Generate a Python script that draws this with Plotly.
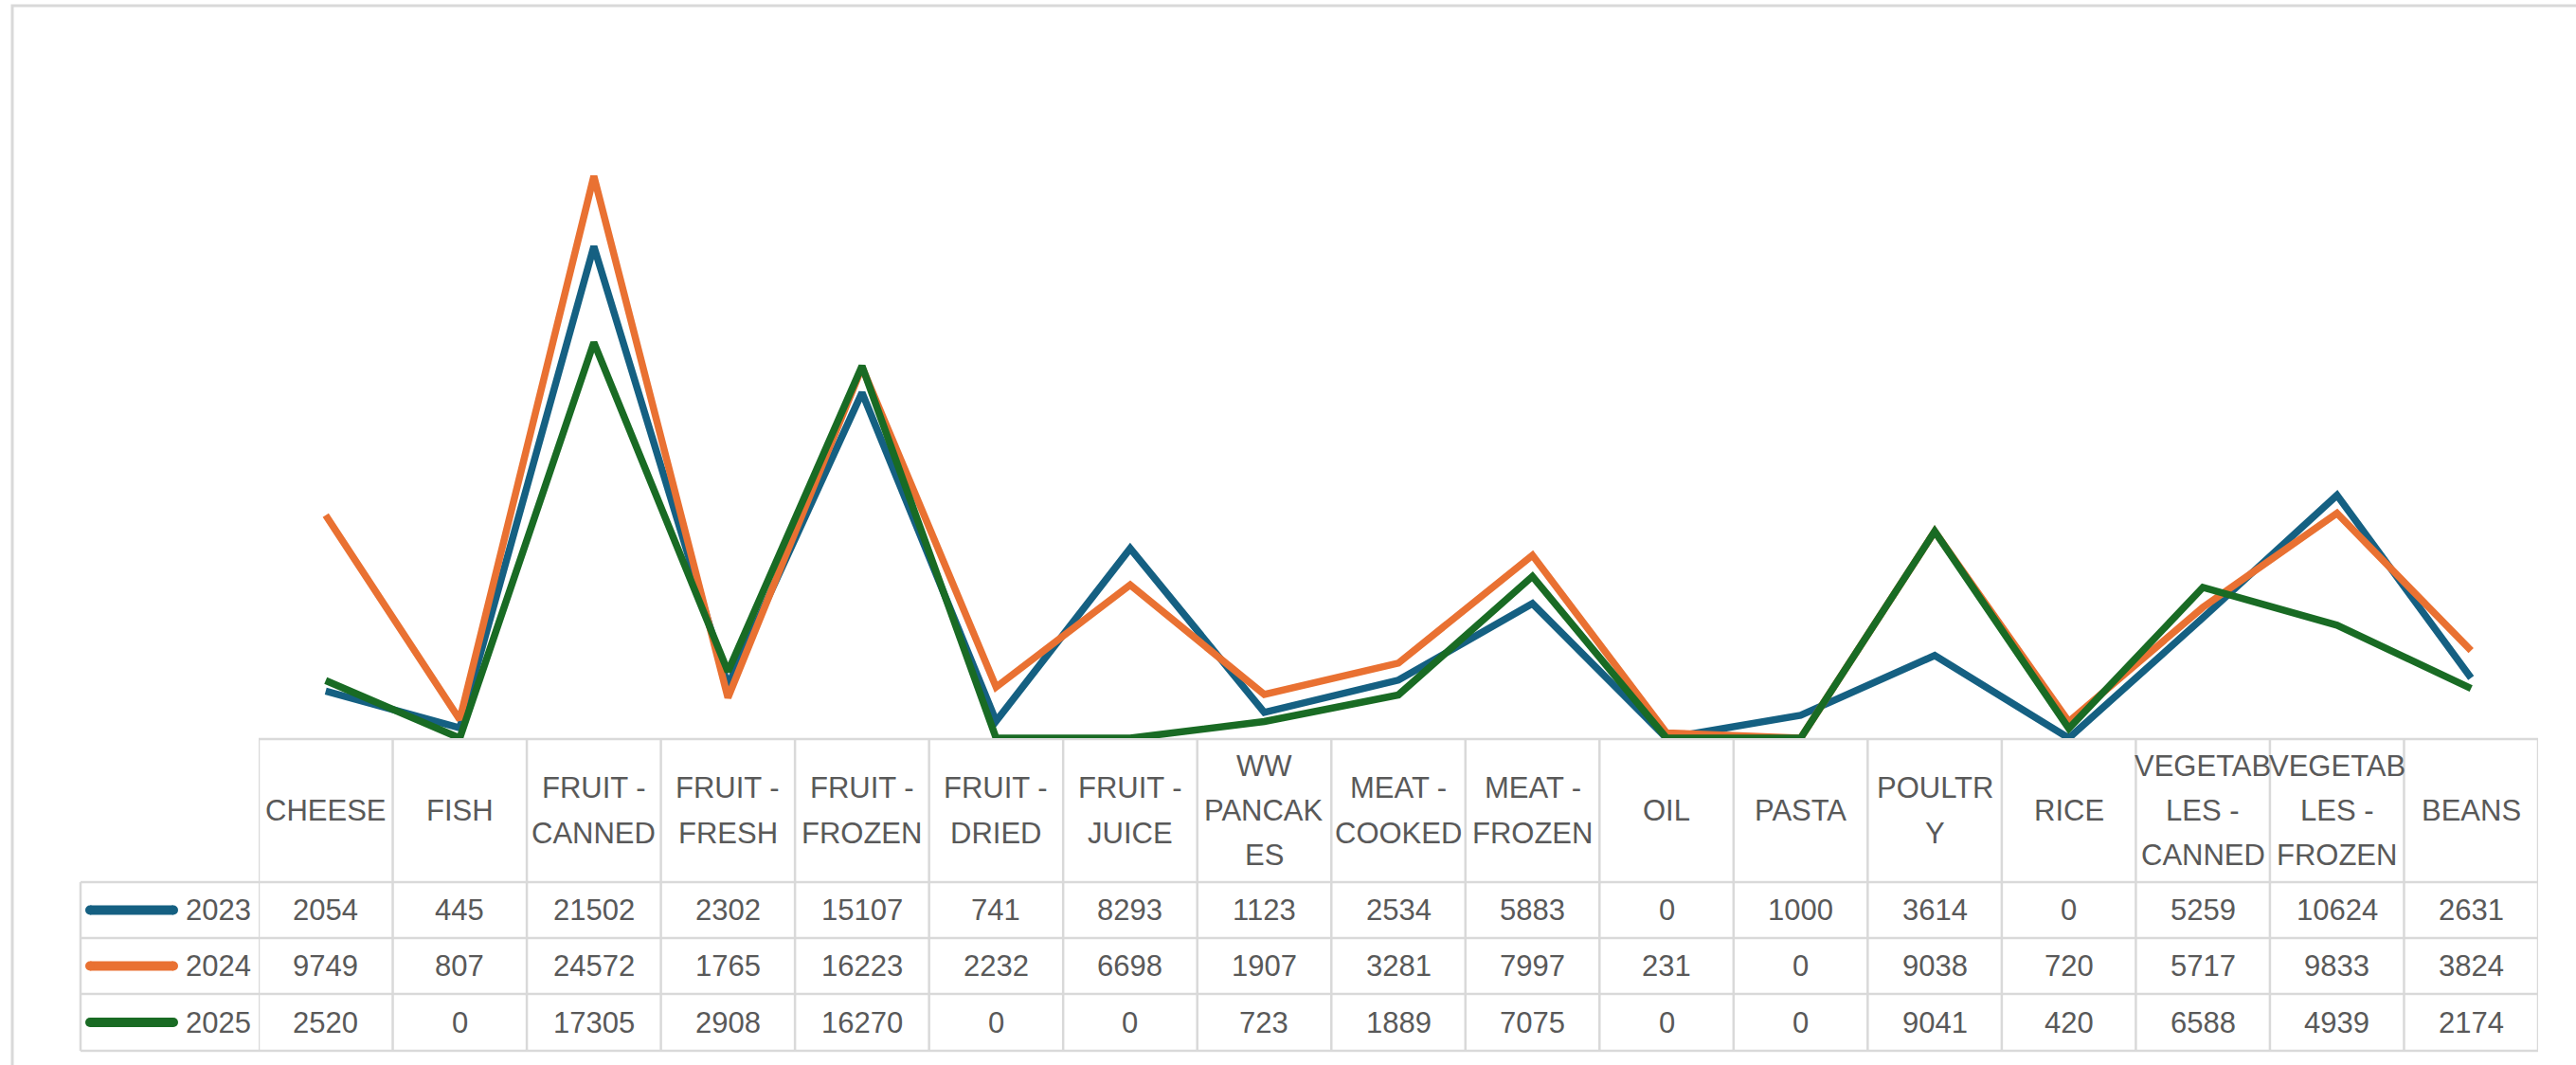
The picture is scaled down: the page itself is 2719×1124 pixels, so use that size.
import plotly.graph_objects as go

# ---------------- data ----------------
categories = ["CHEESE", "FISH", "FRUIT - CANNED", "FRUIT - FRESH", "FRUIT - FROZEN",
              "FRUIT - DRIED", "FRUIT - JUICE", "WW PANCAKES", "MEAT - COOKED",
              "MEAT - FROZEN", "OIL", "PASTA", "POULTRY", "RICE",
              "VEGETABLES - CANNED", "VEGETABLES - FROZEN", "BEANS"]
header_labels = ["CHEESE", "FISH", "FRUIT -<br>CANNED", "FRUIT -<br>FRESH", "FRUIT -<br>FROZEN",
                 "FRUIT -<br>DRIED", "FRUIT -<br>JUICE", "WW<br>PANCAK<br>ES", "MEAT -<br>COOKED",
                 "MEAT -<br>FROZEN", "OIL", "PASTA", "POULTR<br>Y", "RICE",
                 "VEGETAB<br>LES -<br>CANNED", "VEGETAB<br>LES -<br>FROZEN", "BEANS"]
series_names = ["2023", "2024", "2025"]
v2023 = [2054, 445, 21502, 2302, 15107, 741, 8293, 1123, 2534, 5883, 0, 1000, 3614, 0, 5259, 10624, 2631]
v2024 = [9749, 807, 24572, 1765, 16223, 2232, 6698, 1907, 3281, 7997, 231, 0, 9038, 720, 5717, 9833, 3824]
v2025 = [2520, 0, 17305, 2908, 16270, 0, 0, 723, 1889, 7075, 0, 0, 9041, 420, 6588, 4939, 2174]
series_values = [v2023, v2024, v2025]
colors = ["#156082", "#E97132", "#196B24"]

# ---------------- geometry (pixels) ----------------
W, H = 2719, 1124
PLOT_L, PLOT_R, PLOT_T, PLOT_B = 273, 2679, 55, 779
HEAD_T, HEAD_B = 780, 931
ROW_EDGES = [931, 990, 1049, 1109]
LEG_L = 85
GRID = "#D9D9D9"
TXT = "#595959"
FONT = "Liberation Sans, Arial, sans-serif"
FS = 31
LINE_SP = 47


def px(x):
    return x / W


def py(y):
    return 1 - y / H


n = len(categories)
x_idx = list(range(n))

fig = go.Figure()
for name, vals, col in zip(series_names, series_values, colors):
    fig.add_trace(go.Scatter(x=x_idx, y=vals, mode="lines", name=name,
                             line=dict(color=col, width=7.5), hoverinfo="skip"))

shapes = []
annotations = []

# outer chart border
shapes.append(dict(type="rect", xref="paper", yref="paper", x0=px(13), x1=px(W + 20),
                   y0=py(H + 20), y1=py(6), line=dict(color=GRID, width=3), layer="below"))

# table: horizontal lines
shapes.append(dict(type="line", xref="x", yref="paper", x0=-0.5, x1=n - 0.5,
                   y0=py(HEAD_T), y1=py(HEAD_T), line=dict(color=GRID, width=2.5), layer="below"))
for ye in ROW_EDGES:
    shapes.append(dict(type="line", xref="paper", yref="paper", x0=px(LEG_L), x1=px(PLOT_R),
                       y0=py(ye), y1=py(ye), line=dict(color=GRID, width=2.5), layer="below"))
# vertical lines
for i in range(n + 1):
    shapes.append(dict(type="line", xref="x", yref="paper", x0=i - 0.5, x1=i - 0.5,
                       y0=py(HEAD_T), y1=py(ROW_EDGES[-1]), line=dict(color=GRID, width=2.5),
                       layer="below"))
shapes.append(dict(type="line", xref="paper", yref="paper", x0=px(LEG_L), x1=px(LEG_L),
                   y0=py(ROW_EDGES[0]), y1=py(ROW_EDGES[-1]), line=dict(color=GRID, width=2.5),
                   layer="below"))

# header labels
head_c = (HEAD_T + HEAD_B) / 2
for i, lab in enumerate(header_labels):
    lines = lab.split("<br>")
    k = len(lines)
    for j, ln in enumerate(lines):
        yc = head_c + (j - (k - 1) / 2) * LINE_SP
        annotations.append(dict(x=i, y=py(yc), xref="x", yref="paper", text=ln,
                                showarrow=False, xanchor="center", yanchor="middle",
                                font=dict(family=FONT, size=FS, color=TXT)))

# rows
for r, (name, vals, col) in enumerate(zip(series_names, series_values, colors)):
    yc = (ROW_EDGES[r] + ROW_EDGES[r + 1]) / 2
    # legend key (line with round ends)
    x0k, x1k, lw = 95, 183, 10
    shapes.append(dict(type="line", xref="paper", yref="paper", x0=px(x0k), x1=px(x1k),
                       y0=py(yc), y1=py(yc), line=dict(color=col, width=lw)))
    for xe in (x0k, x1k):
        shapes.append(dict(type="circle", xref="paper", yref="paper",
                           x0=px(xe - lw / 2), x1=px(xe + lw / 2),
                           y0=py(yc + lw / 2), y1=py(yc - lw / 2),
                           fillcolor=col, line=dict(width=0)))
    annotations.append(dict(x=px(267), y=py(yc), xref="paper", yref="paper", text=name,
                            showarrow=False, xanchor="right", yanchor="middle",
                            font=dict(family=FONT, size=FS, color=TXT)))
    for i, v in enumerate(vals):
        annotations.append(dict(x=i, y=py(yc), xref="x", yref="paper", text=str(v),
                                showarrow=False, xanchor="center", yanchor="middle",
                                font=dict(family=FONT, size=FS, color=TXT)))

fig.update_layout(
    width=W, height=H,
    margin=dict(l=0, r=0, t=0, b=0),
    paper_bgcolor="white", plot_bgcolor="white",
    showlegend=False,
    xaxis=dict(domain=[px(PLOT_L), px(PLOT_R)], range=[-0.5, n - 0.5],
               showgrid=False, zeroline=False, showticklabels=False, ticks="", showline=False),
    yaxis=dict(domain=[py(PLOT_B), py(PLOT_T)], range=[0, 30000],
               showgrid=False, zeroline=False, showticklabels=False, ticks="", showline=False),
    shapes=shapes,
    annotations=annotations,
)

fig.write_html("out.html", config={"displayModeBar": False, "staticPlot": True},
               post_script="document.body.style.margin='0px';document.body.style.overflow='hidden';")
